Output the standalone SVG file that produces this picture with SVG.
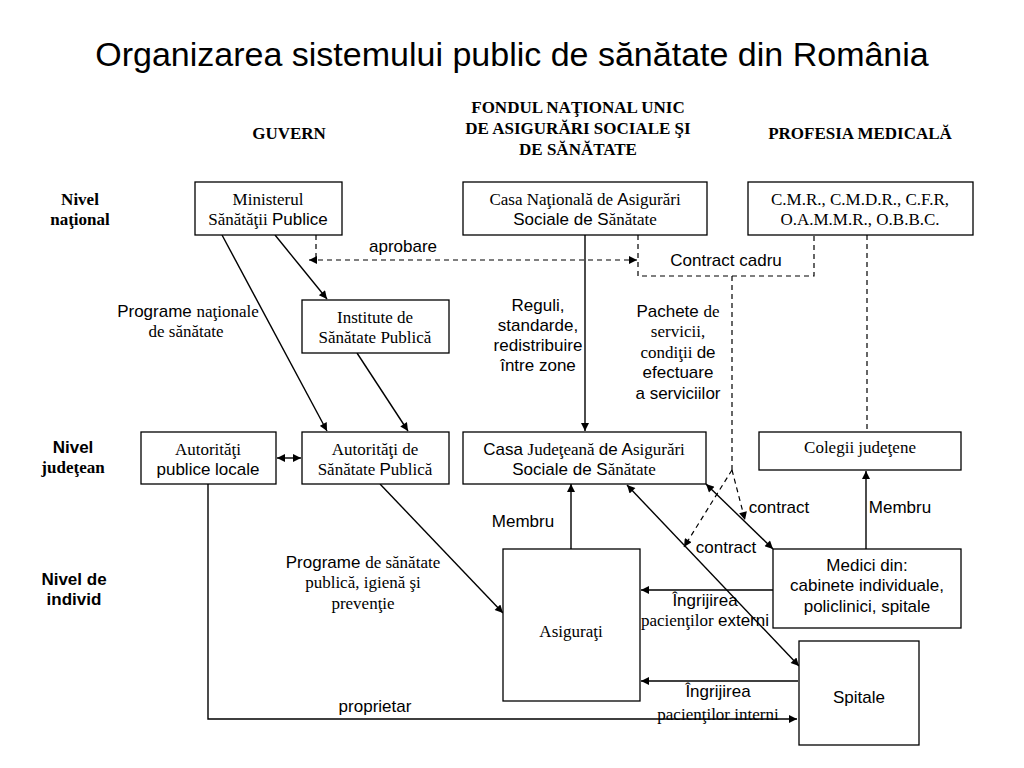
<svg xmlns="http://www.w3.org/2000/svg" width="1024" height="768" viewBox="0 0 1024 768">
<defs>
<marker id="ah" viewBox="0 0 10 10" refX="10" refY="5" markerWidth="10" markerHeight="8" orient="auto-start-reverse" markerUnits="userSpaceOnUse"><path d="M0,0 L10,5 L0,10 z" fill="#000"/></marker>
<style>
.box{fill:#fff;stroke:#000;stroke-width:1.3}
.ln{fill:none;stroke:#000;stroke-width:1.4}
.dash{fill:none;stroke:#000;stroke-width:1.2;stroke-dasharray:5 4}
.se{font-family:"Liberation Serif","Times New Roman",serif;font-size:17px}
.sa{font-family:"Liberation Sans",Arial,sans-serif;font-size:17px}
.m{font-size:17px}
.s{font-family:"Liberation Serif","Times New Roman",serif}
.a{font-family:"Liberation Sans",Arial,sans-serif}
.hd{font-family:"Liberation Serif","Times New Roman",serif;font-size:17px;font-weight:bold}
.hda{font-family:"Liberation Sans",Arial,sans-serif;font-size:17px;font-weight:bold}
text{fill:#000;text-anchor:middle}
</style>
</defs>
<rect width="1024" height="768" fill="#fff"/>
<text x="512" y="66" class="a" style="font-size:34px">Organizarea sistemului public de sănătate din România</text>

<g id="headers">
<text x="289" y="139" class="hd">GUVERN</text>
<text x="578" y="113" class="hd">FONDUL NAŢIONAL UNIC</text>
<text x="578" y="134" class="hd">DE ASIGURĂRI SOCIALE ŞI</text>
<text x="578" y="155" class="hd">DE SĂNĂTATE</text>
<text x="860" y="139" class="hd">PROFESIA MEDICALĂ</text>
<text x="80" y="205" class="hd">Nivel</text>
<text x="80" y="225" class="hd">naţional</text>
<text x="73" y="453" class="hda">Nivel</text>
<text x="73" y="473" class="hd">judeţean</text>
<text x="74" y="585" class="hda">Nivel de</text>
<text x="74" y="605" class="hda">individ</text>
</g>

<g id="connectors">
<line class="ln" x1="222" y1="235" x2="327" y2="431" marker-end="url(#ah)"/>
<line class="ln" x1="275" y1="235" x2="327" y2="299" marker-end="url(#ah)"/>
<line class="ln" x1="357" y1="353" x2="408" y2="431" marker-end="url(#ah)"/>
<line class="ln" x1="277" y1="458" x2="301" y2="458" marker-start="url(#ah)" marker-end="url(#ah)"/>
<path class="dash" d="M316,235 V260"/>
<line class="dash" x1="309" y1="260" x2="637" y2="260" marker-start="url(#ah)" marker-end="url(#ah)"/>
<path class="dash" d="M638,235 V276 H814 V235"/>
<path class="dash" d="M867,235 V432"/>
<path class="dash" d="M732,276 V470"/>
<line class="dash" x1="732" y1="470" x2="684" y2="547" marker-end="url(#ah)"/>
<line class="dash" x1="732" y1="470" x2="745" y2="520" marker-end="url(#ah)"/>
<line class="ln" x1="585" y1="235" x2="585" y2="431" marker-end="url(#ah)"/>
<line class="ln" x1="706" y1="484" x2="773" y2="549" marker-start="url(#ah)" marker-end="url(#ah)"/>
<line class="ln" x1="627" y1="485" x2="799" y2="666" marker-start="url(#ah)" marker-end="url(#ah)"/>
<line class="ln" x1="571" y1="549" x2="571" y2="484" marker-end="url(#ah)"/>
<line class="ln" x1="866" y1="549" x2="866" y2="471" marker-end="url(#ah)"/>
<line class="ln" x1="773" y1="590" x2="641" y2="590" marker-end="url(#ah)"/>
<line class="ln" x1="798" y1="681" x2="641" y2="681" marker-end="url(#ah)"/>
<path class="ln" d="M208,484 V719 H797" marker-end="url(#ah)"/>
<line class="ln" x1="380" y1="484" x2="503" y2="613" marker-end="url(#ah)"/>
</g>

<g id="labels">
<text x="403" y="252" class="sa">aprobare</text>
<text x="726" y="266" class="sa">Contract cadru</text>
<text x="188" y="317" class="m"><tspan class="a">Programe </tspan><tspan class="s">naţionale</tspan></text>
<text x="186" y="337" class="se">de sănătate</text>
<text x="538" y="311" class="sa">Reguli,</text>
<text x="538" y="331" class="sa">standarde,</text>
<text x="538" y="351" class="sa">redistribuire</text>
<text x="538" y="371" class="sa">între zone</text>
<text x="678" y="317" class="m"><tspan class="a">Pachete </tspan><tspan class="s">de</tspan></text>
<text x="678" y="337" class="se">servicii,</text>
<text x="678" y="358" class="m"><tspan class="s">condiţii </tspan><tspan class="a">de</tspan></text>
<text x="678" y="378" class="sa">efectuare</text>
<text x="678" y="399" class="sa">a serviciilor</text>
<text x="779" y="513" class="sa">contract</text>
<text x="726" y="553" class="sa">contract</text>
<text x="900" y="513" class="sa">Membru</text>
<text x="523" y="527" class="sa">Membru</text>
<text x="363" y="568" class="m"><tspan class="a">Programe </tspan><tspan class="s">de sănătate</tspan></text>
<text x="363" y="588" class="se">publică, igienă şi</text>
<text x="363" y="609" class="se">prevenţie</text>
<text x="705" y="606" class="sa">Îngrijirea</text>
<text x="705" y="626" class="m"><tspan class="s">pacienţilor </tspan><tspan class="a">externi</tspan></text>
<text x="718" y="697" class="sa">Îngrijirea</text>
<text x="718" y="720" class="se">pacienţilor interni</text>
<text x="375" y="712" class="sa">proprietar</text>
</g>

<g id="ministerul">
<rect class="box" x="195" y="182" width="147" height="53"/>
<text x="268" y="205" class="se">Ministerul</text>
<text x="268" y="225" class="m"><tspan class="s">Sănătăţii </tspan><tspan class="a">Publice</tspan></text>
</g>
<g id="casa-nationala">
<rect class="box" x="463" y="182" width="244" height="53"/>
<text x="585" y="205" class="m"><tspan class="s">Casa Naţională de </tspan><tspan class="a">A</tspan><tspan class="s">sigurări</tspan></text>
<text x="585" y="225" class="m"><tspan class="a">Sociale de S</tspan><tspan class="s">ănătate</tspan></text>
</g>
<g id="cmr">
<rect class="box" x="748" y="182" width="225" height="53"/>
<text x="860" y="205" class="se">C.M.R., C.M.D.R., C.F.R,</text>
<text x="860" y="225" class="se">O.A.M.M.R., O.B.B.C.</text>
</g>
<g id="institute">
<rect class="box" x="302" y="300" width="147" height="53"/>
<text x="375" y="323" class="se">Institute de</text>
<text x="375" y="343" class="se">Sănătate Publică</text>
</g>
<g id="autoritati-locale">
<rect class="box" x="141" y="432" width="135" height="52"/>
<text x="208" y="455" class="se">Autorităţi</text>
<text x="208" y="475" class="sa">publice locale</text>
</g>
<g id="autoritati-sp">
<rect class="box" x="302" y="432" width="147" height="52"/>
<text x="375" y="455" class="se">Autorităţi de</text>
<text x="375" y="475" class="m"><tspan class="s">Sănătate </tspan><tspan class="a">P</tspan><tspan class="s">ublică</tspan></text>
</g>
<g id="casa-judeteana">
<rect class="box" x="463" y="432" width="243" height="52"/>
<text x="584" y="455" class="m"><tspan class="a">Casa </tspan><tspan class="s">Judeţeană </tspan><tspan class="a">de A</tspan><tspan class="s">sigurări</tspan></text>
<text x="584" y="475" class="m"><tspan class="a">Sociale de S</tspan><tspan class="s">ănătate</tspan></text>
</g>
<g id="colegii">
<rect class="box" x="759" y="432" width="202" height="38"/>
<text x="860" y="453" class="se">Colegii judeţene</text>
</g>
<g id="medici">
<rect class="box" x="773" y="549" width="188" height="79"/>
<text x="867" y="571" class="sa">Medici din:</text>
<text x="867" y="591" class="sa">cabinete individuale,</text>
<text x="867" y="612" class="sa">policlinici, spitale</text>
</g>
<g id="asigurati">
<rect class="box" x="503" y="549" width="137" height="152"/>
<text x="571" y="637" class="se">Asiguraţi</text>
</g>
<g id="spitale">
<rect class="box" x="799" y="641" width="120" height="104"/>
<text x="859" y="703" class="sa">Spitale</text>
</g>
</svg>
